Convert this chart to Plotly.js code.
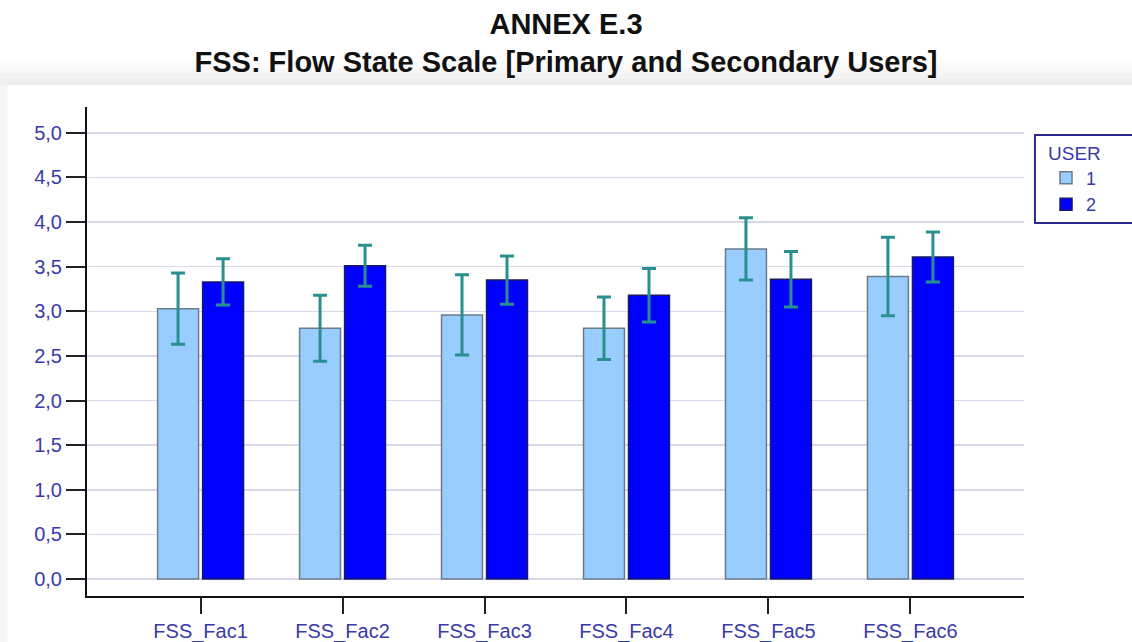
<!DOCTYPE html>
<html>
<head>
<meta charset="utf-8">
<script src="https://cdn.plot.ly/plotly-3.0.1.min.js"></script>
<style>
  html, body { margin: 0; padding: 0; background: #ffffff; }
  #chart { width: 1132px; height: 642px; }
</style>
</head>
<body>
<div id="chart"></div>
<script>
const categories = ["FSS_Fac1", "FSS_Fac2", "FSS_Fac3", "FSS_Fac4", "FSS_Fac5", "FSS_Fac6"];
const user1Means = [3.03, 2.81, 2.96, 2.81, 3.70, 3.39];
const user1Err   = [0.40, 0.37, 0.45, 0.35, 0.35, 0.44];
const user2Means = [3.33, 3.51, 3.35, 3.18, 3.36, 3.61];
const user2Err   = [0.26, 0.23, 0.27, 0.30, 0.31, 0.28];
const yTickVals  = [0, 0.5, 1, 1.5, 2, 2.5, 3, 3.5, 4, 4.5, 5];
const yTickText  = ["0,0", "0,5", "1,0", "1,5", "2,0", "2,5", "3,0", "3,5", "4,0", "4,5", "5,0"];

const errStyle = { color: "#2a8f8f", thickness: 3, width: 7 };

const traces = [
  {
    type: "bar", name: "1", x: categories, y: user1Means,
    marker: { color: "#99ccff", line: { color: "#6b7b8c", width: 1.5 } },
    error_y: Object.assign({ type: "data", array: user1Err, visible: true }, errStyle)
  },
  {
    type: "bar", name: "2", x: categories, y: user2Means,
    marker: { color: "#0000ff", line: { color: "#1a1a66", width: 1.5 } },
    error_y: Object.assign({ type: "data", array: user2Err, visible: true }, errStyle)
  }
];

// faint panel shading between the title band and the chart panel (paper coords)
const shapes = [];
const bandTops = [1.095, 1.08, 1.068, 1.058];
bandTops.forEach(function (t) {
  shapes.push({
    type: "rect", xref: "paper", yref: "paper", layer: "below",
    x0: -0.093, x1: 1.116, y0: 1.045, y1: t,
    fillcolor: "#000000", opacity: 0.014, line: { width: 0 }
  });
});
[-0.0855, -0.0835].forEach(function (r) {
  shapes.push({
    type: "rect", xref: "paper", yref: "paper", layer: "below",
    x0: -0.093, x1: r, y0: -0.1, y1: 1.045,
    fillcolor: "#000000", opacity: 0.018, line: { width: 0 }
  });
});
// legend frame, running off the right edge as in the reference
shapes.push({
  type: "rect", xref: "paper", yref: "paper", layer: "above",
  x0: 1.0117, x1: 1.124, y0: 0.7628, y1: 0.9427,
  fillcolor: "rgba(0,0,0,0)", line: { color: "#2b2b8f", width: 2 }
});

const layout = {
  width: 1132, height: 642,
  paper_bgcolor: "#ffffff", plot_bgcolor: "#ffffff",
  font: { family: "Liberation Sans, Arial, sans-serif" },
  title: {
    text: "<b>ANNEX E.3</b><br><b>FSS: Flow State Scale [Primary and Secondary Users]</b>",
    font: { size: 29, color: "#111111", family: "Liberation Sans, Arial, sans-serif" },
    x: 0.5, xanchor: "center", y: 0.947, yanchor: "top"
  },
  shapes: shapes,
  margin: { l: 87, r: 108, t: 107, b: 46 },
  barmode: "group", bargap: 0.366, bargroupgap: 0.09,
  showlegend: true,
  legend: {
    x: 1.0235, xanchor: "left", y: 0.943, yanchor: "top",
    borderwidth: 0, bgcolor: "rgba(0,0,0,0)",
    title: { text: "USER", font: { size: 19, color: "#3a3aa8" } },
    font: { size: 18, color: "#3a3aa8" },
    tracegroupgap: 0, itemwidth: 30
  },
  xaxis: {
    type: "category", range: [-0.8, 5.8],
    showline: true, linecolor: "#111111", linewidth: 2,
    ticks: "outside", ticklen: 16, tickwidth: 2, tickcolor: "#222222",
    tickfont: { size: 20, color: "#3a3aa8" },
    showgrid: false, zeroline: false, fixedrange: true
  },
  yaxis: {
    range: [-0.19, 5.29],
    tickmode: "array", tickvals: yTickVals, ticktext: yTickText,
    showline: true, linecolor: "#111111", linewidth: 2,
    ticks: "outside", ticklen: 19, tickwidth: 2, tickcolor: "#222222",
    tickfont: { size: 20, color: "#3a3aa8" },
    showgrid: true, gridcolor: "#d8d8ea", gridwidth: 1.5,
    zeroline: false, fixedrange: true
  }
};

Plotly.newPlot("chart", traces, layout, { displayModeBar: false, staticPlot: true });
</script>
</body>
</html>
